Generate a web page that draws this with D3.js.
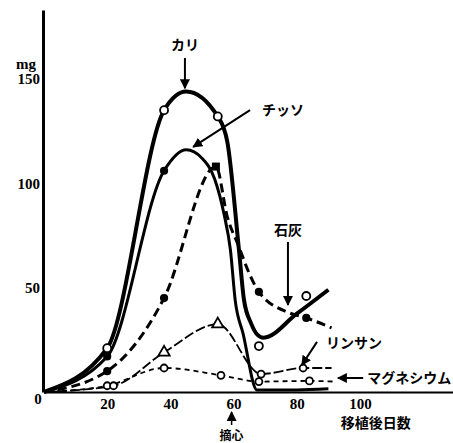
<!DOCTYPE html>
<html>
<head>
<meta charset="utf-8">
<script src="https://cdn.jsdelivr.net/npm/d3@7"></script>
<style>
  body { margin: 0; background: #fff; }
  .num { font-family: 'Liberation Serif', 'DejaVu Serif', serif; font-weight: bold; font-size: 15px; fill: #000; }
  .jp { font-family: 'Noto Sans CJK JP', sans-serif; font-weight: bold; font-size: 14px; fill: #000; }
</style>
</head>
<body>
<svg id="chart" width="453" height="443"></svg>
<script>
// values: [day after transplant, mg]
const xTicks = [20, 40, 60, 80, 100];
const yTicks = [50, 100, 150];

const kariLine = [[0, 0], [20, 21], [38, 135], [45, 144], [55, 132], [58, 120], [61.7, 68], [63.3, 44],
                  [65.5, 33], [67.5, 27.5], [69.5, 26], [80, 37.5], [90, 49]];
const kariPts = [[20, 21], [38, 135], [55, 132], [68, 22], [83, 46]];

const chissoLine = [[0, 0], [20, 17], [38, 106], [45, 116], [50, 112], [54, 102], [57, 85], [59, 68],
                    [60.5, 44], [63, 28], [67.4, 1], [80, 1], [90, 1.5]];
const chissoPts = [[20, 17], [38, 106]];

const sekkaiLine = [[0, 0], [20, 10], [38, 45], [54.4, 108], [58, 84], [61.7, 69.5], [64.9, 57], [68, 48],
                    [77.5, 38], [83, 35.5], [91, 30.7]];
const sekkaiPts = [[20, 10], [38, 45], [68, 48], [83, 35.5]];
const sekkaiPeak = [[54.4, 108]];

const rinsanLine = [[0, 0], [22, 3], [38, 19], [55, 32.5], [68.7, 8.6], [82, 11.5], [91, 11.5]];
const rinsanTri = [[38, 19], [55, 32.5]];
const rinsanPts = [[22, 3], [68.7, 8.6], [82, 11.5]];

const magLine = [[0, 0], [20, 3], [38, 11.5], [56, 8], [68, 5], [84, 5.3], [92, 5]];
const magPts = [[20, 3], [38, 11.5], [56, 8], [68, 5], [84, 5.3]];

// label text, label position, arrow from -> to (data units)
const notes = [
  { text: 'カリ', at: [44.6, 166.3], anchor: 'middle', from: [44.6, 160], to: [44.6, 145.5] },
  { text: 'チッソ', at: [67.7, 135], anchor: 'start', from: [65.2, 135], to: [47.2, 117.4] },
  { text: '石灰', at: [77.2, 77.6], anchor: 'middle', from: [77.2, 71.9], to: [77.2, 41.7] },
  { text: 'リンサン', at: [88, 23.5], anchor: 'start', from: [86.4, 24], to: [81.6, 12.9] },
  { text: 'マグネシウム', at: [101, 6.7], anchor: 'start', from: [101, 6.7], to: [93, 6.7] }
];

const svg = d3.select('#chart');

const x = d3.scaleLinear().domain([0, 130]).range([44, 44 + 130 * 3.16]);
const y = d3.scaleLinear().domain([0, 183]).range([392, 10]);

svg.append('defs').append('marker')
    .attr('id', 'head')
    .attr('viewBox', '0 0 10 10')
    .attr('refX', 9).attr('refY', 5)
    .attr('markerWidth', 10).attr('markerHeight', 10)
    .attr('markerUnits', 'userSpaceOnUse')
    .attr('orient', 'auto')
    .append('path')
    .attr('d', 'M0,0 L10,5 L0,10 Z')
    .attr('fill', '#000');

// axes
const xAxis = svg.append('g')
    .attr('transform', `translate(0,${y(0)})`)
    .call(d3.axisBottom(x).tickValues(xTicks).tickSize(0).tickPadding(6));
xAxis.select('.domain').attr('stroke', '#000').attr('stroke-width', 1.8);
xAxis.selectAll('text').attr('class', 'num');

const yAxis = svg.append('g')
    .attr('transform', `translate(${x(0) - 1},0)`)
    .call(d3.axisLeft(y).tickValues(yTicks).tickSize(0).tickPadding(3));
yAxis.select('.domain').attr('stroke', '#000').attr('stroke-width', 3);
yAxis.selectAll('text').attr('class', 'num');

svg.append('text').attr('class', 'num')
    .attr('x', x(0) - 6).attr('y', y(0) + 7).attr('dy', '0.35em')
    .attr('text-anchor', 'middle').text('0');
svg.append('text').attr('class', 'num')
    .attr('x', 26).attr('y', y(150) - 15).attr('dy', '0.35em')
    .attr('text-anchor', 'middle').text('mg');

svg.append('text').attr('class', 'jp')
    .attr('x', x(105)).attr('y', y(0) + 31).attr('dy', '0.35em')
    .attr('text-anchor', 'middle').text('移植後日数');

// 摘心 marker under day 60
svg.append('line')
    .attr('x1', x(60) - 2).attr('x2', x(60) - 2)
    .attr('y1', y(0) + 33).attr('y2', y(0) + 20)
    .attr('stroke', '#000').attr('stroke-width', 1.5)
    .attr('marker-end', 'url(#head)');
svg.append('text').attr('class', 'jp')
    .attr('x', x(60) - 2).attr('y', y(0) + 44).attr('dy', '0.35em')
    .attr('text-anchor', 'middle').style('font-size', '12px').text('摘心');

// lines
const line = d3.line()
    .x((d) => x(d[0]))
    .y((d) => y(d[1]))
    .curve(d3.curveMonotoneX);

const series = [
  { data: magLine, w: 1.8, dash: '5,4' },
  { data: rinsanLine, w: 1.8, dash: '10,3' },
  { data: sekkaiLine, w: 3, dash: '9,5' },
  { data: chissoLine, w: 3, dash: null },
  { data: kariLine, w: 4, dash: null }
];

svg.selectAll('.series').data(series).enter().append('path')
    .attr('class', 'series')
    .attr('d', (d) => line(d.data))
    .attr('fill', 'none')
    .attr('stroke', '#000')
    .attr('stroke-width', (d) => d.w)
    .attr('stroke-dasharray', (d) => d.dash)
    .attr('stroke-linejoin', 'round');

// markers
function circles(data, r, filled) {
  svg.append('g').selectAll('circle').data(data).enter().append('circle')
      .attr('cx', (d) => x(d[0]))
      .attr('cy', (d) => y(d[1]))
      .attr('r', r)
      .attr('fill', filled ? '#000' : '#fff')
      .attr('stroke', '#000')
      .attr('stroke-width', 1.8);
}
circles(magPts, 3.5, false);
circles(rinsanPts, 3.5, false);
circles(sekkaiPts, 3.2, true);
circles(chissoPts, 3.2, true);
circles(kariPts, 4, false);

svg.append('g').selectAll('path').data(rinsanTri).enter().append('path')
    .attr('d', d3.symbol().type(d3.symbolTriangle).size(55))
    .attr('transform', (d) => `translate(${x(d[0])},${y(d[1])})`)
    .attr('fill', '#fff').attr('stroke', '#000').attr('stroke-width', 1.8);

svg.append('g').selectAll('rect').data(sekkaiPeak).enter().append('rect')
    .attr('x', (d) => x(d[0]) - 4).attr('y', (d) => y(d[1]) - 4)
    .attr('width', 8).attr('height', 8)
    .attr('fill', '#000');

// annotations
const ann = svg.append('g');
ann.selectAll('line').data(notes).enter().append('line')
    .attr('x1', (d) => x(d.from[0])).attr('y1', (d) => y(d.from[1]))
    .attr('x2', (d) => x(d.to[0])).attr('y2', (d) => y(d.to[1]))
    .attr('stroke', '#000').attr('stroke-width', 2)
    .attr('marker-end', 'url(#head)');
ann.selectAll('text').data(notes).enter().append('text')
    .attr('class', 'jp')
    .attr('x', (d) => x(d.at[0]) + (d.anchor === 'start' ? 4 : 0))
    .attr('y', (d) => y(d.at[1]))
    .attr('dy', '0.35em')
    .attr('text-anchor', (d) => d.anchor)
    .text((d) => d.text);
</script>
</body>
</html>
